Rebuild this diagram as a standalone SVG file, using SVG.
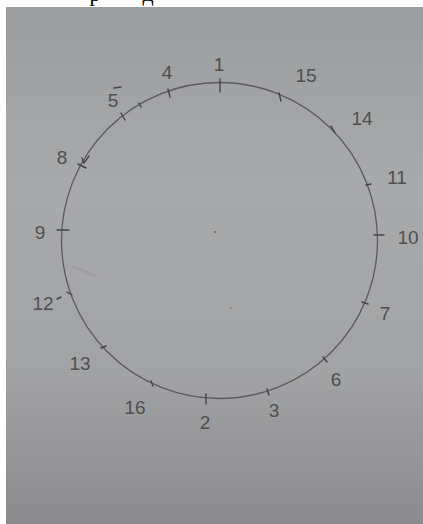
<svg xmlns="http://www.w3.org/2000/svg" width="423" height="524" viewBox="0 0 423 524">
<defs>
<linearGradient id="paper" x1="0" y1="0" x2="0" y2="1">
<stop offset="0" stop-color="#9c9d9f"/>
<stop offset="0.35" stop-color="#a8a9ab"/>
<stop offset="0.7" stop-color="#a2a3a5"/>
<stop offset="1" stop-color="#8b8b8d"/>
</linearGradient>
<clipPath id="topclip"><rect x="0" y="0" width="423" height="7"/></clipPath>
</defs>
<style>
.lbl{font-family:"Liberation Sans","DejaVu Sans",sans-serif;font-size:19px;fill:#4e4f51;text-anchor:middle;dominant-baseline:central}
.tick{stroke:#444547;stroke-width:1.4;stroke-linecap:round;fill:none}
.rim{stroke:#5a5b5d;stroke-width:1.3;fill:none}
</style>
<rect x="0" y="0" width="423" height="524" fill="#ffffff"/>
<g clip-path="url(#topclip)">
<text x="95" y="1" font-family="Liberation Serif, serif" font-size="22" fill="#000" text-anchor="middle">р</text>
<text x="148" y="1" font-family="Liberation Serif, serif" font-size="22" fill="#000" text-anchor="middle">д</text>
</g>
<rect x="6" y="7" width="417" height="517" fill="url(#paper)"/>
<path d="M72 266 L96 276" stroke="#9a9a9c" stroke-width="3" opacity="0.6"/>
<circle cx="215" cy="232" r="0.9" fill="#555"/>
<circle cx="231" cy="308" r="0.8" fill="#666"/>
<g id="connectors">
<circle class="rim" cx="219.5" cy="240.5" r="158"/>
</g>
<g id="n1"><line class="tick" x1="220" y1="79" x2="220" y2="92"/><text class="lbl" x="219" y="64">1</text></g>
<g id="n15"><line class="tick" x1="279" y1="93" x2="281" y2="101"/><text class="lbl" x="306" y="75">15</text></g>
<g id="n14"><line class="tick" x1="331" y1="126" x2="335" y2="133"/><text class="lbl" x="362" y="118">14</text></g>
<g id="n11"><line class="tick" x1="366" y1="185" x2="371" y2="184"/><text class="lbl" x="397" y="177">11</text></g>
<g id="n10"><line class="tick" x1="374" y1="235" x2="384" y2="235"/><text class="lbl" x="408" y="237">10</text></g>
<g id="n7"><line class="tick" x1="362" y1="302" x2="368" y2="304"/><text class="lbl" x="385" y="313">7</text></g>
<g id="n6"><line class="tick" x1="323" y1="357" x2="327" y2="362"/><text class="lbl" x="336" y="379">6</text></g>
<g id="n3"><line class="tick" x1="267" y1="389" x2="269" y2="395"/><text class="lbl" x="274" y="410">3</text></g>
<g id="n2"><line class="tick" x1="206" y1="394" x2="206" y2="404"/><text class="lbl" x="205" y="422">2</text></g>
<g id="n16"><line class="tick" x1="151" y1="381" x2="153" y2="386"/><text class="lbl" x="135" y="407">16</text></g>
<g id="n13"><line class="tick" x1="101" y1="348" x2="106" y2="346"/><text class="lbl" x="80" y="363">13</text></g>
<g id="n12"><line class="tick" x1="67" y1="292" x2="72" y2="295"/><text class="lbl" x="43" y="303">12</text><line class="tick" x1="57" y1="299" x2="61" y2="297"/></g>
<g id="n9"><line class="tick" x1="57" y1="230" x2="69" y2="230"/><text class="lbl" x="40" y="232">9</text></g>
<g id="n8"><line class="tick" x1="78" y1="164" x2="86" y2="168"/><polyline class="tick" points="89,156 84,163 82,158"/><text class="lbl" x="62" y="157">8</text></g>
<g id="n5"><line class="tick" x1="121" y1="113" x2="125" y2="120"/><line class="tick" x1="139" y1="103" x2="141" y2="107"/><text class="lbl" x="113" y="100">5</text><line class="tick" x1="114" y1="88" x2="121" y2="87"/></g>
<g id="n4"><line class="tick" x1="168" y1="89" x2="170" y2="97"/><text class="lbl" x="167" y="72">4</text></g>
</svg>
